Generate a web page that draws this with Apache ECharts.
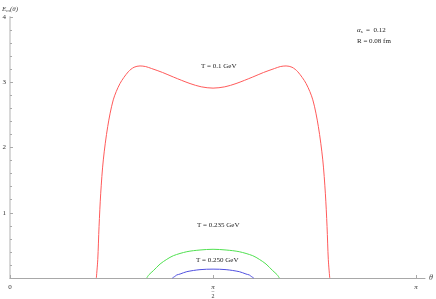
<!DOCTYPE html>
<html><head><meta charset="utf-8">
<script src="https://cdn.jsdelivr.net/npm/echarts@6/dist/echarts.min.js"></script>
<style>html,body{margin:0;padding:0;background:#fff}#c{width:436px;height:299px}</style>
</head><body><div id="c"></div>
<script>
// theta values (radians) and E_m(theta) values
const redTheta = [0.668,0.679,0.689,0.702,0.722,0.756,0.799,0.851,0.915,0.960,1.006,1.050,1.096,1.180,1.264,1.393,1.480,1.571,1.662,1.749,1.878,1.962,2.046,2.091,2.136,2.182,2.227,2.291,2.343,2.386,2.420,2.440,2.453,2.463,2.474];
const redE     = [0.00,0.28,0.79,1.30,1.81,2.32,2.73,2.98,3.16,3.23,3.25,3.24,3.21,3.15,3.08,2.98,2.93,2.91,2.93,2.98,3.08,3.15,3.21,3.24,3.25,3.23,3.16,2.98,2.73,2.32,1.81,1.30,0.79,0.28,0.00];
const greenTheta = [1.058,1.075,1.109,1.161,1.213,1.264,1.368,1.470,1.571,1.672,1.774,1.878,1.929,1.981,2.033,2.067,2.084];
const greenE     = [0.00,0.05,0.112,0.214,0.286,0.342,0.403,0.429,0.44,0.429,0.403,0.342,0.286,0.214,0.112,0.05,0.00];
const blueTheta = [1.256,1.277,1.290,1.316,1.368,1.470,1.571,1.672,1.774,1.826,1.852,1.865,1.886];
const blueE     = [0.00,0.026,0.046,0.061,0.097,0.128,0.136,0.128,0.097,0.061,0.046,0.026,0.00];
const curveLabels = ['T = 0.1 GeV','T = 0.235 GeV','T = 0.250 GeV'];
const paramLabels = ['α','s','  =  0.12','R = 0.08 fm'];

const pairs = (xs, ys) => xs.map((x, i) => [x, ys[i]]);
const serif = 'Liberation Serif';
const chart = echarts.init(document.getElementById('c'), null, {renderer:'canvas'});
const line = (data, color) => ({type:'line', data, showSymbol:false, smooth:0.3,
  lineStyle:{color, width:1}, itemStyle:{color}, animation:false, clip:false});
chart.setOption({
  animation:false,
  grid:{left:10, right:11, top:17, bottom:21, containLabel:false, outerBoundsMode:'none'},
  xAxis:{type:'value', min:0, max:3.211, interval:Math.PI/2,
    name:'θ', nameGap:4, nameTextStyle:{fontFamily:serif, fontStyle:'italic', fontSize:8, color:'#444', verticalAlign:'middle'},
    axisLine:{lineStyle:{color:'#a8a8a8', width:1}},
    axisTick:{inside:true, length:3, lineStyle:{color:'#a8a8a8'}},
    splitLine:{show:false},
    axisLabel:{showMaxLabel:false, margin:6, fontFamily:serif, fontSize:7, color:'#333',
      formatter:v => Math.abs(v) < 1e-6 ? '0' : (Math.abs(v-Math.PI/2) < 1e-3 ? '{n|π}\n{b|─}\n{d|2}' : (Math.abs(v-Math.PI)<1e-3 ? '{n|π}' : '')),
      rich:{n:{fontFamily:serif, fontStyle:'italic', fontSize:7, lineHeight:6, color:'#333'},
            b:{fontSize:4, lineHeight:3, color:'#333'},
            d:{fontFamily:serif, fontSize:6, lineHeight:6, color:'#333'}}}
  },
  yAxis:{type:'value', min:0, max:4, interval:1,
    name:'{e|E}{m|m}{p|(θ)}', nameGap:3, nameLocation:'end',
    nameTextStyle:{align:'left', padding:[0,0,0,-8], rich:{e:{fontFamily:serif, fontStyle:'italic', fontSize:7, color:'#444'}, m:{fontFamily:serif, fontStyle:'italic', fontSize:5, color:'#444', verticalAlign:'bottom', padding:[3,0,0,0]}, p:{fontFamily:serif, fontStyle:'italic', fontSize:7, color:'#444'}}},
    axisLine:{show:true, lineStyle:{color:'#d8d8d8', width:2}},
    axisTick:{inside:true, length:3, lineStyle:{color:'#aaa'}},
    minorTick:{show:true, splitNumber:5, length:2, lineStyle:{color:'#aaa'}},
    splitLine:{show:false},
    axisLabel:{showMinLabel:false, margin:4, fontFamily:serif, fontSize:7, color:'#333'}
  },
  series:[
    line(pairs(redTheta, redE), '#ff5a5a'),
    line(pairs(greenTheta, greenE), '#50e050'),
    line(pairs(blueTheta, blueE), '#5050e0')
  ],
  graphic:[
    {type:'text', left:201, top:63, style:{text:curveLabels[0], font:'7px "Liberation Serif"', fill:'#222'}},
    {type:'text', left:197, top:222, style:{text:curveLabels[1], font:'7px "Liberation Serif"', fill:'#222'}},
    {type:'text', left:196, top:257, style:{text:curveLabels[2], font:'7px "Liberation Serif"', fill:'#222'}},
    {type:'text', left:357, top:27, style:{text:'{a|'+paramLabels[0]+'}{s|'+paramLabels[1]+'}{t|'+paramLabels[2]+'}',
      rich:{a:{font:'italic 7px "Liberation Serif"', fill:'#222'}, s:{font:'5px "Liberation Serif"', fill:'#222', padding:[3,0,0,0]}, t:{font:'7px "Liberation Serif"', fill:'#222'}}}},
    {type:'text', left:357, top:38, style:{text:paramLabels[3], font:'7px "Liberation Serif"', fill:'#222'}}
  ]
});
</script></body></html>
